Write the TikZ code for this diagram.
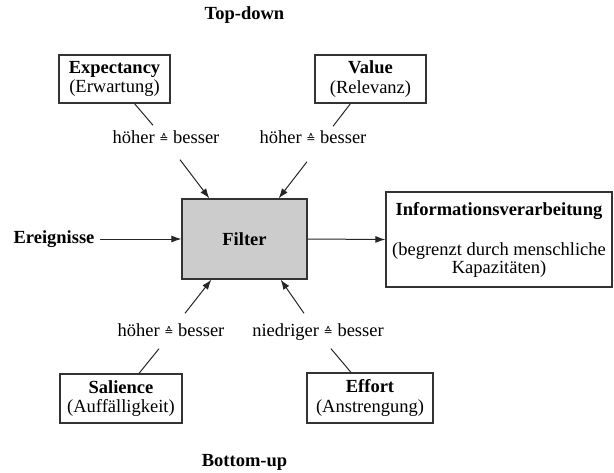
\documentclass[tikz,border=0pt]{standalone}
\usepackage{fontspec}
\setmainfont{Liberation Serif}
\newfontfamily\symfam{DejaVu Sans}
\usetikzlibrary{arrows.meta,positioning}
\newcommand{\entspricht}{\raisebox{1.5pt}{\symfam\fontsize{11}{11}\selectfont ≙}}

\begin{document}
\begin{tikzpicture}[x=1pt,y=-1pt,
	every node/.style={font=\fontsize{18.5}{19.5}\selectfont},
	box/.style={draw=black!80, line width=1.2pt, align=center, inner sep=0pt},
	lab/.style={inner sep=0pt, text height=13pt, text depth=4pt},
	pfeil/.style={-{Latex[length=10pt,width=7pt]}, line width=1pt, draw=black!85},
	verb/.style={line width=1pt, draw=black!85}]
	\useasboundingbox (0,0) rectangle (614,472);
	% Kopf- und Fusszeile
	\node (top) at (244.5,15) {\textbf{Top-down}};
	\node (bottom) at (244.5,462) {\textbf{Bottom-up}};
	% Filter in der Mitte
	\node[box, fill=black!20, minimum width=125pt, minimum height=80pt] (filter) at (244.5,239) {\textbf{Filter}};
	\node (ereig) at (54,239) {\textbf{Ereignisse}};
	\node[box, minimum width=226pt, minimum height=95pt, font=\fontsize{18.5}{17.5}\selectfont] (info) at (499,239.5)
		{\textbf{Informationsverarbeitung}\\[23pt](begrenzt durch menschliche\\Kapazitäten)};
	\draw[pfeil] ([xshift=2pt]ereig.east) -- (filter.west);
	\draw[pfeil] (filter.east) -- (info.west);
	% Top-down
	\node[box, minimum width=111pt, minimum height=48pt] (expect) at (114.5,79) {\textbf{Expectancy}\\(Erwartung)};
	\node[box, minimum width=111pt, minimum height=48pt] (value) at (370.5,79) {\textbf{Value}\\(Relevanz)};
	\node[lab] (labexp) at (166,139) {höher \entspricht{} besser};
	\node[lab] (labval) at (313,139) {höher \entspricht{} besser};
	\draw[verb] ([xshift=20pt]expect.south) -- ([xshift=-13pt,yshift=5pt]labexp.north);
	\draw[verb] ([xshift=-20pt]value.south) -- ([xshift=20pt,yshift=4pt]labval.north);
	\draw[pfeil] ([xshift=14pt,yshift=-12pt]labexp.south) -- ([xshift=28pt]filter.north west);
	\draw[pfeil] ([xshift=-6pt,yshift=-14pt]labval.south) -- ([xshift=-29pt]filter.north east);
	% Bottom-up
	\node[box, minimum width=122pt, minimum height=49pt] (sal) at (121,398.5) {\textbf{Salience}\\(Auffälligkeit)};
	\node[box, minimum width=126pt, minimum height=50pt] (effort) at (370,398) {\textbf{Effort}\\(Anstrengung)};
	\node[lab] (labsal) at (171,332) {höher \entspricht{} besser};
	\node[lab] (labeff) at (318,332) {niedriger \entspricht{} besser};
	\draw[verb] ([xshift=18pt]sal.north) -- ([xshift=-12pt,yshift=-8pt]labsal.south);
	\draw[verb] ([xshift=-19pt]effort.north) -- ([xshift=13pt,yshift=-8pt]labeff.south);
	\draw[pfeil] ([xshift=14pt,yshift=10pt]labsal.north) -- ([xshift=30pt]filter.south west);
	\draw[pfeil] ([xshift=-14pt,yshift=10pt]labeff.north) -- ([xshift=-27pt]filter.south east);
\end{tikzpicture}
\end{document}
